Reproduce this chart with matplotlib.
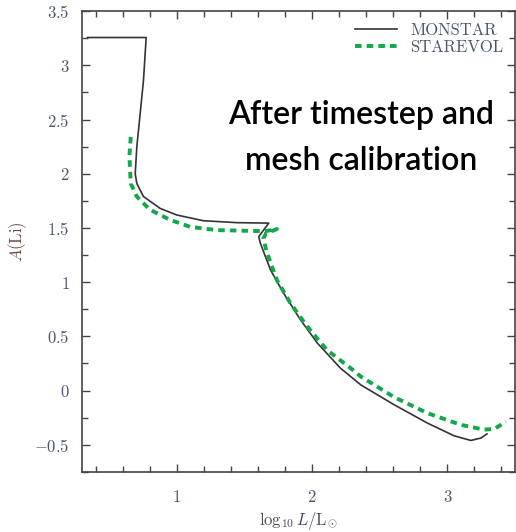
import matplotlib
matplotlib.use("Agg")
import matplotlib.pyplot as plt
from matplotlib.ticker import MultipleLocator, FuncFormatter

# MONSTAR (solid black)
monstar_logL = [0.34, 0.774, 0.754, 0.73, 0.705, 0.693, 0.705, 0.754, 0.878, 1.0, 1.196,
                1.446, 1.68, 1.606, 1.618, 1.693, 1.79, 1.915, 2.04, 2.21, 2.36, 2.606,
                2.853, 3.05, 3.174, 3.248, 3.293]
monstar_ALi = [3.257, 3.257, 2.86, 2.56, 2.25, 2.0, 1.91, 1.79, 1.68, 1.62, 1.567,
               1.549, 1.545, 1.42, 1.36, 1.113, 0.898, 0.652, 0.437, 0.207, 0.053, -0.13,
               -0.30, -0.417, -0.46, -0.438, -0.40]

# STAREVOL (green dashed)
starevol_logL = [0.66, 0.65, 0.66, 0.705, 0.80, 0.95, 1.10, 1.30, 1.594, 1.66, 1.74,
                 1.66, 1.64, 1.668, 1.74, 1.84, 1.965, 2.11, 2.285, 2.36, 2.606, 2.853,
                 3.1, 3.27, 3.347, 3.433]
starevol_ALi = [2.34, 2.16, 1.91, 1.79, 1.67, 1.575, 1.51, 1.48, 1.472, 1.472, 1.49,
                1.45, 1.40, 1.267, 1.02, 0.806, 0.59, 0.375, 0.207, 0.13, -0.06, -0.208,
                -0.316, -0.36, -0.355, -0.285]

plt.rcParams['font.family'] = 'serif'
plt.rcParams['font.serif'] = ['cmr10']
plt.rcParams['mathtext.fontset'] = 'cm'
plt.rcParams['axes.formatter.use_mathtext'] = True

fig = plt.figure(figsize=(5.16, 5.32), dpi=100)
ax = fig.add_axes([0.159, 0.113, 0.839, 0.866])

ax.plot(monstar_logL, monstar_ALi, color='#333333', lw=1.2, label='MONSTAR')
ax.plot(starevol_logL, starevol_ALi, color='#12a84a', lw=2.8, ls=(0, (1.7, 1.3)),
        label='STAREVOL')

ax.set_xlim(0.3, 3.5)
ax.set_ylim(-0.75, 3.5)
ax.xaxis.set_major_locator(MultipleLocator(1))
ax.xaxis.set_minor_locator(MultipleLocator(0.2))
ax.yaxis.set_major_locator(MultipleLocator(0.5))
ax.yaxis.set_minor_locator(MultipleLocator(0.25))
fmt = FuncFormatter(lambda v, p: '$%g$' % v if v >= 0 else r'$-%g$' % abs(v))
ax.xaxis.set_major_formatter(fmt)
ax.yaxis.set_major_formatter(fmt)
ax.tick_params(which='both', direction='in', top=True, right=True,
               colors='#444444', labelcolor='#4a5670', labelsize=12)
ax.tick_params(which='major', length=6, width=1)
ax.tick_params(which='minor', length=4, width=1)
ax.tick_params(axis='x', pad=12)
ax.tick_params(axis='y', pad=9)
for s in ax.spines.values():
    s.set_color('#444444')
    s.set_linewidth(1.2)

ax.set_xlabel(r'$\log_{10} L/\mathrm{L}_{\odot}$', color='#4a4a5a', fontsize=12, labelpad=4)
ax.set_ylabel(r'$A(\mathrm{Li})$', color='#6b4a4a', fontsize=12, labelpad=4)

leg = ax.legend(loc='upper right', frameon=False, fontsize=12, handlelength=2.5,
                labelspacing=0.1, borderaxespad=0.3, handletextpad=0.8)
for t in leg.get_texts():
    t.set_color('#4a5670')

ax.text(2.36, 2.33, 'After timestep and\nmesh calibration', family='Lato', fontsize=23,
        fontweight='semibold', ha='center', va='center', linespacing=1.7, color='black')

fig.savefig('out.png', dpi=100)
